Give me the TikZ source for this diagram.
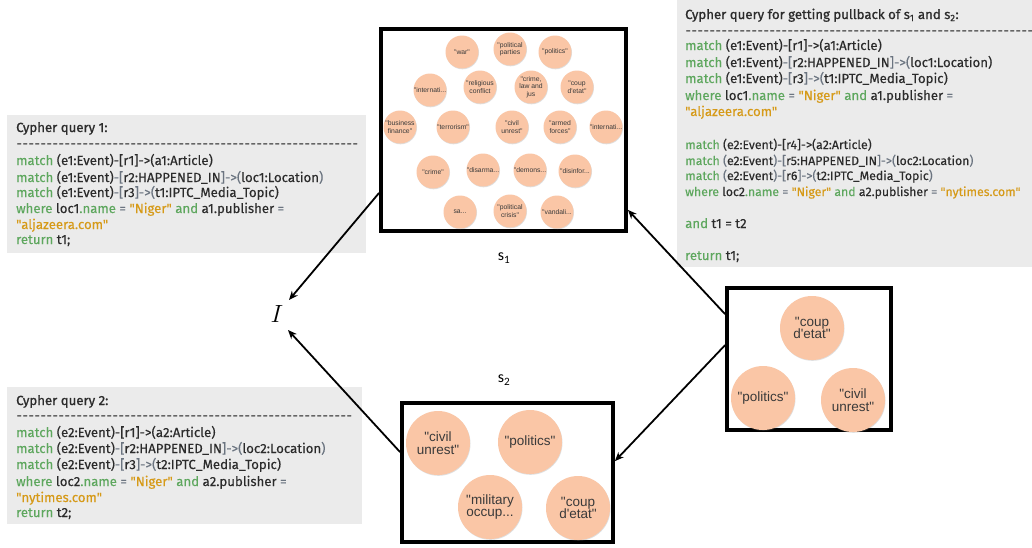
\documentclass[tikz,border=0pt]{standalone}
\usepackage{fontspec}
\usetikzlibrary{arrows.meta,shadows,calc}
\newfontfamily\qfont[FakeBold=0.3]{Fira Sans}
\newfontfamily\qhfont[FakeBold=1.0]{Fira Sans}
\newfontfamily\circfont{Liberation Sans}
\newfontfamily\lblfont{Carlito}
\definecolor{qbg}{HTML}{EBEBEB}
\definecolor{qgreen}{HTML}{5EA75E}
\definecolor{qorange}{HTML}{D69A18}
\definecolor{qdark}{HTML}{2B2B2B}
\definecolor{qpunct}{HTML}{6B7480}
\definecolor{bubble}{HTML}{FAC6A6}
\definecolor{bubtext}{HTML}{3A3A3A}
\newcommand\qkw[1]{\textcolor{qgreen}{#1}}
\newcommand\qstr[1]{\textcolor{qorange}{#1}}
\newcommand\qpun[1]{\textcolor{qpunct}{#1}}
\newcommand\qdashes[1]{\foreach \i in {1,...,#1}{\makebox[6pt]{-}}}
\tikzset{
  qbox/.style={fill=qbg, anchor=north west, inner sep=0},
  qtext/.style={anchor=base west, inner sep=0, text=qdark,
    font=\qfont\fontsize{13.2}{14}\selectfont},
  qthin/.style={qtext, font=\qfont\fontsize{12.3}{14}\selectfont},
  qhead/.style={qtext, font=\qhfont\fontsize{13.2}{14}\selectfont},
  setbox/.style={draw=black, fill=white, line width=3.8pt, inner sep=0,
    drop shadow={shadow xshift=1.5pt, shadow yshift=-1.5pt, opacity=0.25}},
  bub/.style={circle, fill=bubble, inner sep=0, align=center, text=bubtext,
    drop shadow={shadow xshift=0.5pt, shadow yshift=-0.8pt, opacity=0.25}},
  sbub/.style={bub, minimum size=33pt, font=\circfont\fontsize{6.8}{7.4}\selectfont},
  bbub/.style={bub, minimum size=64pt, font=\circfont\fontsize{13.5}{12.8}\selectfont},
  lbl/.style={inner sep=0, font=\lblfont\fontsize{16}{17}\selectfont},
  conn/.style={line width=1.8pt, -{Stealth[length=9pt,width=7.5pt]}},
}
\begin{document}
\begin{tikzpicture}[x=1pt,y=-1pt]
\useasboundingbox (0,0) rectangle (1032,547);

% query panels
\node[qbox, minimum width=359pt, minimum height=138pt] (q1box) at (7,115) {};
\node[qbox, minimum width=355pt, minimum height=137pt] (q2box) at (7,387) {};
\node[qbox, minimum width=355pt, minimum height=267pt] (pbbox) at (677,0) {};

% Cypher query 1
\node[qhead] (q1h) at (16,132) {Cypher query 1:};
\node[qtext] (q1d) at (16,148) {\qdashes{57}};
\node[qtext] (q1a) at (16,165) {\qkw{match} (e1:Event)-[r1]->(a1:Article)};
\node[qtext] (q1b) at (16,182) {\qkw{match} (e1:Event)\qpun{-[}r2:HAPPENED\_IN\qpun{]->(}loc1:Location\qpun{)}};
\node[qtext] (q1c) at (16,197) {\qkw{match} (e1:Event)\qpun{-[}r3\qpun{]->(}t1:IPTC\_Media\_Topic)};
\node[qtext] (q1e) at (16,213) {\qkw{where} loc1\qkw{.name} \qpun{=} \qstr{"Niger"} \qkw{and} a1.publisher \qpun{=}};
\node[qtext] (q1f) at (16,229) {\qstr{"aljazeera.com"}};
\node[qtext] (q1g) at (16,244) {\qkw{return} t1;};

% Cypher query 2
\node[qhead] (q2h) at (16,405) {Cypher query 2:};
\node[qtext] (q2d) at (16,420) {\qdashes{56}};
\node[qtext] (q2a) at (16,437) {\qkw{match} (e2:Event)-[r1]->(a2:Article)};
\node[qtext] (q2b) at (16,453) {\qkw{match} (e2:Event)\qpun{-[}r2:HAPPENED\_IN\qpun{]->(}loc2:Location\qpun{)}};
\node[qtext] (q2c) at (16,469) {\qkw{match} (e2:Event)\qpun{-[}r3\qpun{]->(}t2:IPTC\_Media\_Topic)};
\node[qtext] (q2e) at (16,486) {\qkw{where} loc2\qkw{.name} \qpun{=} \qstr{"Niger"} \qkw{and} a2.publisher \qpun{=}};
\node[qtext] (q2f) at (16,502) {\qstr{"nytimes.com"}};
\node[qtext] (q2g) at (16,517) {\qkw{return} t2;};

% pullback query
\node[qhead] (pbh) at (685,19) {Cypher query for getting pullback of s\textsubscript{1} and s\textsubscript{2}:};
\node[qtext] (pbd) at (685,35) {\qdashes{58}};
\node[qtext] (pba) at (685,50) {\qkw{match} (e1:Event)-[r1]->(a1:Article)};
\node[qtext] (pbb) at (685,67) {\qkw{match} (e1:Event)\qpun{-[}r2:HAPPENED\_IN\qpun{]->(}loc1:Location)};
\node[qtext] (pbc) at (685,83) {\qkw{match} (e1:Event)\qpun{-[}r3\qpun{]->(}t1:IPTC\_Media\_Topic)};
\node[qtext] (pbe) at (685,100) {\qkw{where} loc1\qkw{.name} \qpun{=} \qstr{"Niger"} \qkw{and} a1.publisher \qpun{=}};
\node[qtext] (pbf) at (685,116) {\qstr{"aljazeera.com"}};
\node[qthin] (pbg) at (685,149) {\qkw{match} (e2:Event)-[r4]->(a2:Article)};
\node[qthin] (pbi) at (685,165) {\qkw{match} \qpun{(}e2:Event\qpun{)-[}r5:HAPPENED\_IN\qpun{]->(}loc2:Location\qpun{)}};
\node[qthin] (pbj) at (685,180) {\qkw{match} \qpun{(}e2:Event\qpun{)-[}r6\qpun{]->(}t2:IPTC\_Media\_Topic\qpun{)}};
\node[qthin] (pbk) at (685,196) {\qkw{where} loc2\qkw{.name} \qpun{=} \qstr{"Niger"} \qkw{and} a2.publisher \qpun{=} \qstr{"nytimes.com"}};
\node[qtext] (pbl) at (685,228) {\qkw{and} t1 = t2};
\node[qtext] (pbm) at (685,260) {\qkw{return} t1;};

% set s1
\node[setbox, minimum width=245pt, minimum height=202pt] (s1) at (503.5,130) {};
\node[sbub] (b1) at (462,52) {"war"};
\node[sbub] (b2) at (510,49) {"political\\parties};
\node[sbub] (b3) at (555,52) {"politics"};
\node[sbub] (b4) at (430,90) {"internati...};
\node[sbub] (b5) at (480,87) {"religious\\conflict};
\node[sbub] (b6) at (531,87) {"crime,\\law and\\jus};
\node[sbub] (b7) at (577,87) {"coup\\d'etat"};
\node[sbub] (b8) at (400,127) {"business\\finance"};
\node[sbub] (b9) at (453,127) {"terrorism"};
\node[sbub] (b10) at (512,127) {"civil\\unrest"};
\node[sbub] (b11) at (560,127) {"armed\\forces"};
\node[sbub] (b12) at (606,127) {"internati...};
\node[sbub] (b13) at (433,172) {"crime"};
\node[sbub] (b14) at (483,170) {"disarma...};
\node[sbub] (b15) at (530,170) {"demons...};
\node[sbub] (b16) at (575,171) {"disinfor...};
\node[sbub] (b17) at (460,212) {sa...};
\node[sbub] (b18) at (510,211) {"political\\crisis"};
\node[sbub] (b19) at (557,212) {"vandali...};
\node[lbl] (s1lab) at (504,258) {s\textsubscript{1}};

% set s2
\node[setbox, minimum width=211pt, minimum height=139pt] (s2) at (507.5,472.5) {};
\node[bbub] (c1) at (438,443) {"civil\\unrest"};
\node[bbub] (c2) at (530,442) {"politics"};
\node[bbub] (c3) at (490,507) {"military\\occup...};
\node[bbub] (c4) at (578,508) {"coup\\d'etat"};
\node[lbl] (s2lab) at (504,380) {s\textsubscript{2}};

% pullback
\node[setbox, minimum width=164pt, minimum height=142pt] (pb) at (809,359) {};
\node[bbub] (d1) at (812,328) {"coup\\d'etat"};
\node[bbub] (d2) at (763,398) {"politics"};
\node[bbub] (d3) at (853,400) {"civil\\unrest"};

% target object
\node[inner sep=0] (I) at (277,314) {\fontsize{28}{30}\selectfont$I$};

% morphisms
\draw[conn] ([yshift=40pt]s1.south west) -- ([xshift=12pt,yshift=14pt]I.center);
\draw[conn] ([yshift=-51pt]s2.north west) -- ([xshift=11pt,yshift=-16pt]I.center);
\draw[conn] ([yshift=-28pt]pb.north west) -- ([yshift=23pt]s1.south east);
\draw[conn] ([yshift=-59pt]pb.north west) -- ([yshift=-60pt]s2.north east);
\end{tikzpicture}
\end{document}
